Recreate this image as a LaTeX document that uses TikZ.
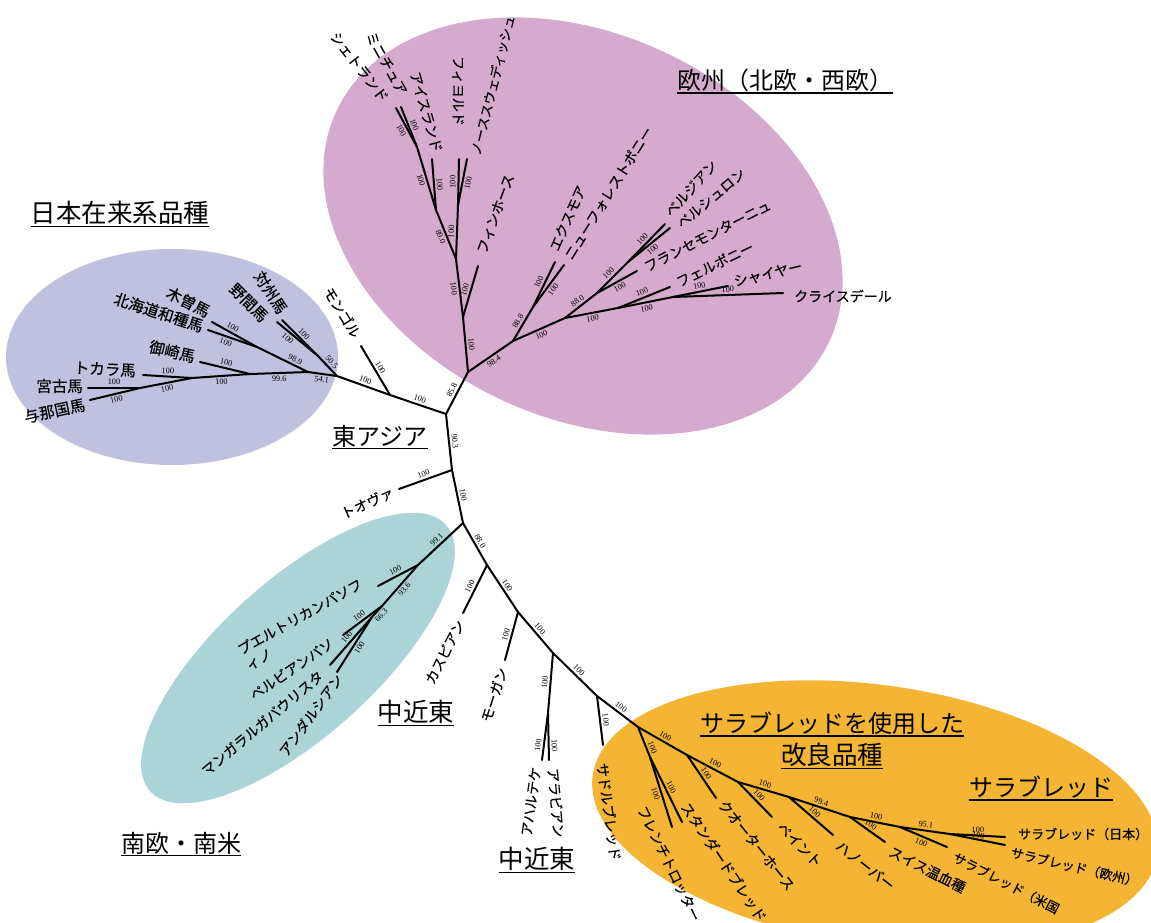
\documentclass[tikz,border=0pt]{standalone}
\usepackage{fontspec}
\setmainfont{Noto Sans CJK JP}
\newfontfamily\labfont[FakeBold=0.3]{Noto Sans CJK JP}
\newfontfamily\numfont{Liberation Serif}
\definecolor{lavc}{RGB}{191,193,223}
\definecolor{pinkc}{RGB}{212,170,206}
\definecolor{tealc}{RGB}{170,212,216}
\definecolor{orngc}{RGB}{244,180,52}
\begin{document}
\begin{tikzpicture}[x=1pt,y=-1pt,
  br/.style={line width=2pt, line cap=round, line join=round},
  bl/.style={font=\numfont\fontsize{8.3}{9}\selectfont, sloped, inner sep=2pt},
  tip/.style={font=\labfont\fontsize{14}{17}\selectfont, inner sep=1pt},
  jtip/.style={font=\labfont\fontsize{15.5}{18}\selectfont, inner sep=1pt},
  ttip/.style={font=\labfont\fontsize{13}{15}\selectfont, inner sep=1pt},
  ttl/.style={font=\fontsize{24}{28}\selectfont, inner sep=0pt},
  kttl/.style={font=\fontsize{25.5}{30}\selectfont, inner sep=0pt},
  uline/.style={line width=1.4pt}]
\useasboundingbox (0,0) rectangle (1151,922);
\fill[white] (0,0) rectangle (1151,922);
\begin{scope}
\clip (0,0) rectangle (1151,922);
% clusters
\fill[lavc] (172,357) ellipse (166pt and 108pt);
\fill[pinkc, rotate around={-25:(583,226)}] (583,226) ellipse (272pt and 192pt);
\fill[tealc, rotate around={42:(298,658)}] (298,658) ellipse (199pt and 78pt);
\fill[orngc, rotate around={-8:(875,815)}] (875,815) ellipse (285pt and 130pt);
\end{scope}
% ---- coordinates
% Japan / East Asia
\coordinate (miyT) at (88,388);
\coordinate (yonT) at (90,400);
\coordinate (MY) at (140,388);
\coordinate (tokT) at (143,375);
\coordinate (TK) at (192,378);
\coordinate (misT) at (200,362);
\coordinate (MI) at (250,374);
\coordinate (kisT) at (212,322);
\coordinate (hokT) at (208,330);
\coordinate (KH) at (257,347);
\coordinate (KJ) at (308,372);
\coordinate (nomT) at (277,322);
\coordinate (tsuT) at (282,320);
\coordinate (J50) at (318,356);
\coordinate (JR) at (337,376);
\coordinate (monT) at (361,346);
\coordinate (MG) at (390,395);
\coordinate (EA) at (446,414);
% Europe
\coordinate (EU) at (468,372);
\coordinate (FH) at (463,317);
\coordinate (finT) at (478,266);
\coordinate (NJ) at (456,259);
\coordinate (FN) at (458,205);
\coordinate (fjoT) at (459,159);
\coordinate (nswT) at (467,159);
\coordinate (ISJ) at (436,210);
\coordinate (iceT) at (432,159);
\coordinate (SM) at (417,147);
\coordinate (sheT) at (396,108);
\coordinate (minT) at (401,107);
\coordinate (J1) at (513,341);
\coordinate (EN) at (533,307);
\coordinate (exmT) at (555,262);
\coordinate (nfpT) at (564,265);
\coordinate (J2) at (565,318);
\coordinate (J3) at (597,293);
\coordinate (BP) at (628,262);
\coordinate (belT) at (665,224);
\coordinate (perT) at (670,228);
\coordinate (fmT) at (637,271);
\coordinate (J4) at (618,308);
\coordinate (felT) at (670,287);
\coordinate (J5) at (673,297);
\coordinate (shiT) at (728,286);
\coordinate (clyT) at (783,293);
% backbone
\coordinate (T1) at (452,470);
\coordinate (tovT) at (399,489);
\coordinate (S0) at (463,523);
% southern Europe / South America
\coordinate (PR) at (418,565);
\coordinate (prT) at (378,586);
\coordinate (SP) at (382,606);
\coordinate (peT) at (343,635);
\coordinate (MA) at (372,617);
\coordinate (maT) at (330,665);
\coordinate (anT) at (337,672);
% Near East
\coordinate (C1) at (487,565);
\coordinate (casT) at (463,613);
\coordinate (C2) at (518,612);
\coordinate (morT) at (505,660);
\coordinate (C3) at (553,653);
\coordinate (AR) at (548,713);
\coordinate (akhT) at (542,760);
\coordinate (araT) at (549,760);
\coordinate (C4) at (597,696);
\coordinate (sadT) at (603,745);
% Thoroughbred group
\coordinate (O1) at (638,727);
\coordinate (FS) at (650,757);
\coordinate (ftT) at (672,827);
\coordinate (sbT) at (682,822);
\coordinate (O2) at (687,755);
\coordinate (qhT) at (716,798);
\coordinate (O3) at (738,782);
\coordinate (paT) at (772,817);
\coordinate (O4) at (789,797);
\coordinate (haT) at (833,835);
\coordinate (O5) at (850,817);
\coordinate (swT) at (885,842);
\coordinate (O6) at (900,827);
\coordinate (usT) at (947,847);
\coordinate (O7) at (950,834);
\coordinate (jpT) at (1005,837);
\coordinate (euT) at (1005,845);
% ---- branches: Japan
\draw[br] (miyT) -- node[bl,above]{100} (MY);
\draw[br] (yonT) -- node[bl,below]{100} (MY);
\draw[br] (MY) -- node[bl,below]{100} (TK);
\draw[br] (tokT) -- node[bl,above]{100} (TK);
\draw[br] (TK) -- node[bl,below]{100} (MI);
\draw[br] (misT) -- node[bl,above]{100} (MI);
\draw[br] (MI) -- node[bl,below]{99.6} (KJ);
\draw[br] (KJ) -- node[bl,below]{54.1} (JR);
\draw[br] (kisT) -- node[bl,above,pos=0.4]{100} (KH);
\draw[br] (hokT) -- node[bl,below,pos=0.4]{100} (KH);
\draw[br] (KH) -- node[bl,above,pos=0.7]{98.9} (KJ);
\draw[br] (nomT) -- node[bl,below,pos=0.35]{100} (J50);
\draw[br] (tsuT) -- node[bl,above]{100} (J50);
\draw[br] (J50) -- node[bl,above]{50.5} (JR);
\draw[br] (JR) -- node[bl,above]{100} (MG);
\draw[br] (monT) -- node[bl,above]{100} (MG);
\draw[br] (MG) -- node[bl,above]{100} (EA);
% backbone
\draw[br] (EA) -- node[bl,above]{85.8} (EU);
\draw[br] (EA) -- node[bl,above]{90.3} (T1);
\draw[br] (tovT) -- node[bl,above]{100} (T1);
\draw[br] (T1) -- node[bl,above]{100} (S0);
\draw[br] (S0) -- node[bl,above]{99.1} (PR);
\draw[br] (S0) -- node[bl,above]{88.0} (C1);
% Europe
\draw[br] (EU) -- node[bl,above]{100} (FH);
\draw[br] (FH) -- node[bl,above]{100} (finT);
\draw[br] (FH) -- node[bl,below]{100} (NJ);
\draw[br] (NJ) -- node[bl,below]{89.0} (ISJ);
\draw[br] (NJ) -- node[bl,above]{100} (FN);
\draw[br] (FN) -- node[bl,above]{100} (fjoT);
\draw[br] (FN) -- node[bl,below]{100} (nswT);
\draw[br] (ISJ) -- node[bl,above]{100} (iceT);
\draw[br] (ISJ) -- node[bl,below]{100} (SM);
\draw[br] (SM) -- node[bl,below]{100} (sheT);
\draw[br] (SM) -- node[bl,above]{100} (minT);
\draw[br] (EU) -- node[bl,below]{98.4} (J1);
\draw[br] (J1) -- node[bl,above]{88.8} (EN);
\draw[br] (EN) -- node[bl,above]{100} (exmT);
\draw[br] (EN) -- node[bl,below]{100} (nfpT);
\draw[br] (J1) -- node[bl,below]{100} (J2);
\draw[br] (J2) -- node[bl,above]{88.0} (J3);
\draw[br] (J3) -- node[bl,above]{100} (BP);
\draw[br] (BP) -- node[bl,above]{100} (belT);
\draw[br] (BP) -- node[bl,below]{100} (perT);
\draw[br] (J3) -- node[bl,below]{100} (fmT);
\draw[br] (J2) -- node[bl,below]{100} (J4);
\draw[br] (J4) -- node[bl,above]{100} (felT);
\draw[br] (J4) -- node[bl,below]{100} (J5);
\draw[br] (J5) -- node[bl,above]{100} (shiT);
\draw[br] (J5) -- node[bl,above]{100} (clyT);
% southern Europe / South America
\draw[br] (PR) -- node[bl,above]{100} (prT);
\draw[br] (PR) -- node[bl,below]{93.6} (SP);
\draw[br] (SP) -- node[bl,above]{100} (peT);
\draw[br] (SP) -- node[bl,below]{66.3} (MA);
\draw[br] (MA) -- node[bl,above]{100} (maT);
\draw[br] (MA) -- node[bl,below]{100} (anT);
% Near East
\draw[br] (C1) -- node[bl,above]{100} (casT);
\draw[br] (C1) -- node[bl,above]{100} (C2);
\draw[br] (C2) -- node[bl,above]{100} (morT);
\draw[br] (C2) -- node[bl,above]{100} (C3);
\draw[br] (C3) -- node[bl,above]{100} (AR);
\draw[br] (AR) -- node[bl,above,pos=0.7]{100} (akhT);
\draw[br] (AR) -- node[bl,above,pos=0.7]{100} (araT);
\draw[br] (C3) -- node[bl,above]{100} (C4);
\draw[br] (C4) -- node[bl,above]{100} (sadT);
\draw[br] (C4) -- node[bl,above]{100} (O1);
% Thoroughbred group
\draw[br] (O1) -- node[bl,above,pos=0.75]{100} (FS);
\draw[br] (FS) -- node[bl,below]{100} (ftT);
\draw[br] (FS) -- node[bl,above]{100} (sbT);
\draw[br] (O1) -- node[bl,above]{100} (O2);
\draw[br] (O2) -- node[bl,above]{100} (qhT);
\draw[br] (O2) -- node[bl,above]{100} (O3);
\draw[br] (O3) -- node[bl,above]{100} (paT);
\draw[br] (O3) -- node[bl,above]{100} (O4);
\draw[br] (O4) -- node[bl,above]{100} (haT);
\draw[br] (O4) -- node[bl,above]{99.4} (O5);
\draw[br] (O5) -- node[bl,above]{100} (swT);
\draw[br] (O5) -- node[bl,above]{100} (O6);
\draw[br] (O6) -- node[bl,below]{100} (usT);
\draw[br] (O6) -- node[bl,above]{95.1} (O7);
\draw[br] (O7) -- node[bl,above]{100} (jpT);
\draw[br] (O7) -- node[bl,above,inner sep=0.5pt]{100} (euT);
% ---- tip labels
\node[jtip,anchor=east] (lmiy) at (84,386) {宮古馬};
\node[jtip,anchor=east,rotate=12] (lyon) at (86,404) {与那国馬};
\node[jtip,anchor=east,rotate=-3] (ltok) at (137,371) {トカラ馬};
\node[jtip,anchor=east,rotate=-13] (lmis) at (196,357) {御崎馬};
\node[jtip,anchor=east,rotate=-18] (lhok) at (204,327) {北海道和種馬};
\node[jtip,anchor=east,rotate=-27] (lkis) at (210,313) {木曽馬};
\node[jtip,anchor=east,rotate=-45] (lnom) at (266,320) {野間馬};
\node[jtip,anchor=east,rotate=-57] (ltsu) at (284,313) {対州馬};
\node[tip,anchor=east,rotate=-58] (lmon) at (358,337) {モンゴル};
\node[tip,anchor=east,rotate=24] (ltov) at (394,491) {トオヴァ};
\node[tip,anchor=east,rotate=-52] (lshe) at (386,101) {シェトランド};
\node[tip,anchor=east,rotate=-61] (lmin) at (404,95) {ミニチュア};
\node[tip,anchor=east,rotate=-74] (lice) at (438,153) {アイスランド};
\node[tip,anchor=east,rotate=-90] (lfjo) at (458,127) {フィヨルド};
\node[tip,anchor=west,rotate=76,font=\labfont\fontsize{13.2}{16}\selectfont] (lnsw) at (475,156) {ノーススウェディッシュ};
\node[tip,anchor=west,rotate=70] (lfin) at (481,254) {フィンホース};
\node[tip,anchor=west,rotate=66] (lexm) at (553,251) {エクスモア};
\node[tip,anchor=west,rotate=58] (lnfp) at (567,259) {ニューフォレストポニー};
\node[tip,anchor=west,rotate=48] (lbel) at (667,215) {ベルジアン};
\node[tip,anchor=west,rotate=40] (lper) at (678,226) {ペルシュロン};
\node[tip,anchor=west,rotate=27] (lfm) at (644,268) {フランセモンターニュ};
\node[tip,anchor=west,rotate=26] (lfel) at (676,283) {フェルポニー};
\node[tip,anchor=west,rotate=13] (lshi) at (733,282) {シャイヤー};
\node[tip,anchor=west] (lcly) at (793,296) {クライスデール};
\node[tip,anchor=east,rotate=29] (lpr1) at (362,582) {プエルトリカンパソフ};
\node[tip,anchor=west,rotate=29] (lpr2) at (246,667) {ィノ};
\node[tip,anchor=east,rotate=34] (lpe) at (333,641) {ペルビアンパソ};
\node[tip,anchor=east,rotate=40] (lma) at (322,673) {マンガラルガパウリスタ};
\node[tip,anchor=east,rotate=54] (lan) at (340,675) {アンダルシアン};
\node[tip,anchor=east,rotate=63] (lcas) at (461,620) {カスピアン};
\node[tip,anchor=east,rotate=72] (lmor) at (503,667) {モーガン};
\node[tip,anchor=east,rotate=82] (lakh) at (536,766) {アハルテケ};
\node[tip,anchor=west,rotate=-85] (lara) at (553,767) {アラビアン};
\node[tip,anchor=west,rotate=-82] (lsad) at (602,762) {サドルブレッド};
\node[tip,anchor=west,rotate=-64] (lft) at (641,806) {フレンチトロッター};
\node[tip,anchor=west,rotate=-56] (lsb) at (684,803) {スタンダードブレッド};
\node[tip,anchor=west,rotate=-51] (lqh) at (721,801) {クオーターホース};
\node[tip,anchor=west,rotate=-45] (lpa) at (779,824) {ペイント};
\node[tip,anchor=west,rotate=-38] (lha) at (837,843) {ハノーバー};
\node[tip,anchor=west,rotate=-27] (lsw) at (889,850) {スイス温血種};
\node[ttip,anchor=west,rotate=-27] (lus) at (953,856) {サラブレッド（米国};
\node[ttip,anchor=west,rotate=-13] (leu) at (1010,852) {サラブレッド（欧州）};
\node[ttip,anchor=west] (ljp) at (1017,834) {サラブレッド（日本）};
% ---- group titles
\node[kttl] (tJP) at (120,213) {日本在来系品種};
\node[ttl] (tEU) at (785,80) {欧州（北欧・西欧）};
\node[ttl] (tEA) at (380,436) {東アジア};
\node[kttl] (tME1) at (416,712) {中近東};
\node[ttl] (tSE) at (181,843) {南欧・南米};
\node[kttl] (tME2) at (537,859) {中近東};
\node[ttl] (tTB1) at (832,723) {サラブレッドを使用した};
\node[kttl] (tTB2) at (832,755) {改良品種};
\node[ttl] (tTB) at (1041,787) {サラブレッド};
\foreach \t in {tJP,tEU,tEA,tME1,tSE,tME2,tTB1,tTB2,tTB}
  \draw[uline] ([yshift=-1.5pt]\t.south west) -- ([yshift=-1.5pt]\t.south east);
\end{tikzpicture}
\end{document}
